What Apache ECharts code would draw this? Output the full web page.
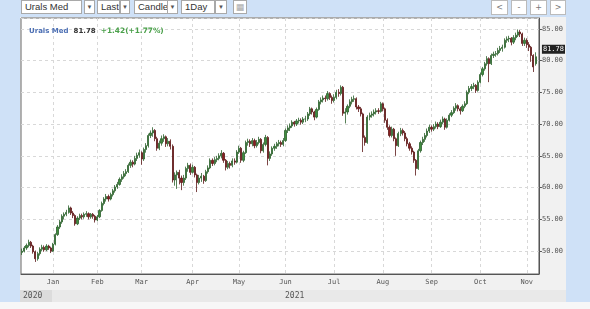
<!DOCTYPE html>
<html><head><meta charset="utf-8">
<script src="https://cdn.jsdelivr.net/npm/echarts@6/dist/echarts.min.js"></script>
<style>
body{margin:0;width:590px;height:309px;background:#cfe1f7;overflow:hidden;position:relative;font-family:'Liberation Sans',Arial,sans-serif}
.b{position:absolute;top:0;height:14px;background:#fff;border:1px solid #a9a9a9;box-sizing:border-box;font-size:9.5px;line-height:12px;color:#333;padding-left:3px;white-space:nowrap;overflow:hidden}
.a{position:absolute;top:0;height:14px;background:#fff;border:1px solid #a9a9a9;box-sizing:border-box;font-size:6px;line-height:12px;color:#555;text-align:center}
.n{position:absolute;top:0;height:15px;background:#fff;border:1px solid #bbb;box-sizing:border-box;font-size:8px;line-height:13px;color:#777;text-align:center;font-family:'DejaVu Sans',sans-serif}
#c{position:absolute;left:20px;top:17px;width:546px;height:285px;background:#f1f1f1}
.yr{position:absolute;top:290px;height:12px;font-family:'DejaVu Sans Mono',monospace;font-size:8px;line-height:12px;color:#555}
</style></head><body>
<div class="b" style="left:21px;width:61px">Urals Med</div>
<div class="a" style="left:84px;width:11px">▼</div>
<div class="b" style="left:97px;width:23px">Last</div>
<div class="a" style="left:120px;width:10px">▼</div>
<div class="b" style="left:134px;width:34px">Candle</div>
<div class="a" style="left:167px;width:11px">▼</div>
<div class="b" style="left:181px;width:34px">1Day</div>
<div class="a" style="left:215px;width:12px">▼</div>
<div class="a" style="left:233px;width:14px;font-size:9px;color:#aaa;font-family:'DejaVu Sans',sans-serif">▦</div>
<div class="n" style="left:491px;width:17px">&lt;</div>
<div class="n" style="left:511px;width:16px">-</div>
<div class="n" style="left:530px;width:17px">+</div>
<div class="n" style="left:550px;width:16px">&gt;</div>
<div id="c"></div>
<div style="position:absolute;left:20px;top:290px;width:546px;height:12px;background:#e9e9e9"></div>
<div style="position:absolute;left:20px;top:290px;width:32px;height:12px;background:#dcdcdc"></div>
<div class="yr" style="left:23px">2020</div>
<div class="yr" style="left:285px">2021</div>
<div style="position:absolute;left:0;top:302px;width:590px;height:7px;background:#f7f7f7"></div>
<script>
const monthNames = ['Jan','Feb','Mar','Apr','May','Jun','Jul','Aug','Sep','Oct','Nov','Dec'];
const holidays = ['2020-12-25','2021-01-01','2021-04-02'];
const categoryCount = 234;
// [open, close, low, high] per trading day, from 2020-12-11
const ohlc = [
[49.8,50.0,49.4,50.4],[50.0,50.5,49.8,50.8],[50.5,50.9,50.2,51.2],[50.9,51.4,50.6,51.8],[51.4,50.8,50.5,51.6],
[50.8,49.9,49.6,51.0],[49.9,48.8,48.3,50.1],[48.8,49.6,48.5,49.9],[49.6,50.3,49.3,50.6],[50.3,50.6,50.0,51.0],
[50.6,50.2,49.9,50.9],[50.2,50.8,50.0,51.1],[50.8,50.5,50.2,51.0],[50.5,50.0,49.7,50.7],
[50.0,51.1,49.9,51.3],[51.1,52.6,50.9,52.8],[52.6,53.8,52.4,54.1],[53.8,54.6,53.5,54.9],[54.6,55.5,54.3,55.8],
[55.5,55.8,55.0,56.1],[55.8,56.1,55.5,56.5],[56.1,56.8,55.9,57.2],[56.8,56.0,55.7,57.0],[56.0,55.6,55.2,56.3],
[55.6,54.3,54.0,55.8],[54.3,55.2,54.1,55.5],[55.2,55.6,54.9,55.9],[55.6,55.4,55.0,55.9],[55.4,55.8,55.1,56.1],
[55.8,55.9,55.4,56.3],[55.9,55.4,55.0,56.1],[55.4,55.8,55.1,56.0],[55.8,55.5,55.1,56.0],[55.5,54.9,54.5,55.7],
[54.9,55.4,54.7,55.7],[55.4,56.4,55.2,56.6],[56.4,57.5,56.2,57.8],[57.5,58.2,57.2,58.5],[58.2,58.6,57.8,59.0],
[58.6,58.2,57.8,58.9],[58.2,58.9,58.0,59.2],[58.9,59.5,58.6,59.8],[59.5,60.1,59.2,60.4],[60.1,60.5,59.8,60.9],
[60.5,61.3,60.3,61.6],[61.3,61.7,60.9,62.1],[61.7,62.2,61.4,62.6],[62.2,62.5,61.8,62.9],[62.5,63.5,62.3,63.8],
[63.5,64.0,63.1,64.4],[64.0,63.7,63.2,64.3],[63.7,64.6,63.5,65.0],[64.6,65.1,64.2,65.5],[65.1,65.5,64.7,66.0],
[65.5,64.5,63.6,65.7],[64.5,66.0,64.2,66.3],[66.0,66.6,65.5,67.0],[66.6,68.2,66.3,68.5],[68.2,68.6,67.8,69.0],
[68.6,69.0,68.0,69.5],[69.0,67.7,67.3,69.2],[67.7,66.2,65.8,68.0],[66.2,67.0,65.9,67.4],[67.0,67.7,66.6,68.2],
[67.7,68.0,67.2,68.4],[68.0,66.9,66.4,68.2],[66.9,67.3,66.5,67.8],[67.3,66.5,66.0,67.6],[66.5,61.2,60.8,66.8],
[61.2,62.0,60.3,62.4],[62.0,62.4,59.8,62.7],[62.4,61.5,60.5,62.8],[61.5,60.8,59.6,61.9],[60.8,61.5,60.3,62.0],
[61.5,63.0,61.2,63.3],[63.0,63.5,62.5,63.9],[63.5,62.4,62.0,63.8],
[62.4,63.2,62.2,63.6],[63.2,62.0,61.6,63.4],[62.0,60.8,59.3,62.2],[60.8,61.5,60.5,62.0],[61.5,61.8,60.9,62.3],
[61.8,61.1,60.6,62.0],[61.1,62.5,60.9,62.8],[62.5,63.1,62.2,63.5],[63.1,64.3,62.9,64.6],[64.3,63.8,63.4,64.6],
[63.8,64.4,63.5,64.8],[64.4,64.6,64.0,65.0],[64.6,65.0,64.3,65.4],[65.0,65.4,64.6,65.9],[65.4,64.3,63.9,65.6],
[64.3,63.2,62.7,64.5],[63.2,63.8,62.9,64.2],[63.8,63.5,63.0,64.1],[63.5,64.2,63.2,64.6],[64.2,64.0,63.6,64.6],
[64.0,65.6,63.8,65.9],
[65.6,66.2,65.3,66.6],[66.2,64.3,63.9,66.4],[64.3,65.5,64.0,65.8],[65.5,67.1,65.3,67.4],[67.1,67.3,66.6,67.7],
[67.3,66.9,66.4,67.6],[66.9,67.4,66.5,67.8],[67.4,66.6,66.2,67.7],[66.6,67.1,66.3,67.5],[67.1,67.6,66.8,68.0],
[67.6,65.8,65.4,67.8],[65.8,66.8,65.5,67.1],[66.8,67.9,66.5,68.3],[67.9,64.6,63.5,68.1],[64.6,65.3,64.2,65.7],
[65.3,66.2,65.0,66.5],[66.2,66.5,65.8,66.9],[66.5,66.9,66.1,67.2],[66.9,67.1,66.5,67.5],[67.1,66.8,66.4,67.4],
[66.8,67.4,66.5,67.8],
[67.4,69.0,67.2,69.3],[69.0,69.4,68.6,69.8],[69.4,69.7,68.9,70.1],[69.7,70.3,69.4,70.6],[70.3,70.0,69.6,70.5],
[70.0,70.5,69.7,70.8],[70.5,70.6,70.1,71.0],[70.6,70.3,69.9,70.9],[70.3,70.8,70.0,71.1],[70.8,70.8,70.3,71.3],
[70.8,71.6,70.5,71.9],[71.6,72.4,71.3,72.7],[72.4,71.9,71.5,72.6],[71.9,71.1,70.6,72.1],[71.1,72.3,70.9,72.6],
[72.3,73.5,72.1,73.8],[73.5,73.8,73.1,74.2],[73.8,74.1,73.4,74.5],[74.1,74.0,73.5,74.5],[74.0,74.8,73.7,75.2],
[74.8,74.2,73.8,75.0],[74.2,73.7,73.2,74.5],
[73.7,74.2,73.4,74.7],[74.2,75.0,73.9,75.4],[75.0,74.8,74.3,75.5],[74.8,75.8,74.5,76.1],[75.8,71.7,71.3,76.0],
[71.7,71.9,70.1,72.5],[71.9,72.8,71.5,73.1],[72.8,73.5,72.5,73.9],[73.5,73.9,73.1,74.3],[73.9,74.0,73.5,74.5],
[74.0,72.7,72.3,74.2],[72.7,72.4,71.9,73.0],[72.4,71.6,71.2,72.7],[71.6,67.9,65.6,71.8],[67.9,67.1,66.6,68.2],
[67.1,71.1,66.9,71.4],[71.1,71.4,70.6,71.8],[71.4,71.6,71.0,72.0],[71.6,71.9,71.2,72.3],[71.9,72.1,71.5,72.5],
[72.1,72.0,71.6,72.5],[72.0,73.2,71.8,73.5],
[73.2,72.4,72.0,73.4],[72.4,70.6,70.2,72.6],[70.6,69.5,69.1,70.9],[69.5,68.2,67.9,69.8],[68.2,69.2,67.9,69.6],
[69.2,67.7,67.3,69.4],[67.7,66.6,65.0,67.9],[66.6,68.5,66.4,68.8],[68.5,69.0,68.1,69.4],[69.0,68.6,68.2,69.3],
[68.6,67.7,67.3,68.9],[67.7,66.9,66.5,68.0],[66.9,66.2,65.8,67.2],[66.2,65.6,65.2,66.5],[65.6,64.3,63.9,65.8],
[64.3,63.0,61.9,64.5],[63.0,65.8,62.8,66.1],[65.8,67.1,65.5,67.4],[67.1,67.6,66.7,68.0],[67.6,68.2,67.2,68.6],
[68.2,68.9,67.9,69.3],[68.9,69.5,68.6,69.9],
[69.5,69.2,68.8,69.8],[69.2,69.6,68.9,70.0],[69.6,70.0,69.3,70.4],[70.0,69.6,69.2,70.3],[69.6,70.3,69.4,70.7],
[70.3,70.8,70.0,71.2],[70.8,69.5,69.1,71.0],[69.5,70.6,69.3,70.9],[70.6,71.4,70.4,71.7],[71.4,71.8,71.1,72.2],
[71.8,72.5,71.6,72.8],[72.5,72.9,72.1,73.3],[72.9,72.4,72.0,73.1],[72.4,72.1,71.5,72.7],[72.1,72.8,71.9,73.1],
[72.8,73.2,72.5,73.6],[73.2,75.0,73.0,75.3],[75.0,75.6,74.7,76.0],[75.6,75.9,75.2,76.3],[75.9,76.1,75.5,76.5],
[76.1,75.3,74.9,76.3],[75.3,76.6,75.1,76.9],
[76.6,77.8,76.4,78.1],[77.8,78.7,77.5,79.0],[78.7,79.5,78.4,79.8],[79.5,80.3,79.2,80.7],[80.3,79.5,76.6,80.5],
[79.5,80.8,79.3,81.1],[80.8,81.0,80.4,81.4],[81.0,81.1,80.6,81.5],[81.1,81.6,80.8,82.0],[81.6,81.9,81.2,82.3],
[81.9,82.1,81.4,82.5],[82.1,83.2,81.9,83.5],[83.2,83.4,82.8,83.8],[83.4,83.5,82.9,83.9],[83.5,82.9,82.4,83.7],
[82.9,83.6,82.6,84.0],[83.6,84.0,83.2,84.4],[84.0,84.5,83.7,84.9],[84.5,84.2,83.7,84.8],[84.2,82.7,82.3,84.4],
[82.7,83.2,82.3,83.6],
[83.2,82.5,82.0,83.5],[82.5,82.1,81.5,82.9],[82.1,80.8,79.8,82.3],[80.8,79.0,78.2,81.0],[79.5,80.6,79.2,81.3]
];
const lastPrice = 81.78;
const headerName = 'Urals Med';
const headerChange = '+1.42(+1.77%)';

const dates = [];
for (let d = new Date(Date.UTC(2020, 11, 11)); dates.length < categoryCount; d.setUTCDate(d.getUTCDate() + 1)) {
  const wd = d.getUTCDay();
  if (wd === 0 || wd === 6) continue;
  const s = d.toISOString().slice(0, 10);
  if (holidays.includes(s)) continue;
  dates.push(s);
}
const isMonthStart = (i) => i > 0 && dates[i].slice(5, 7) !== dates[i - 1].slice(5, 7);
const mono = 'DejaVu Sans Mono';

const chart = echarts.init(document.getElementById('c'));
chart.setOption({
  animation: false,
  title: {
    left: 9, top: 5, padding: 0,
    text: '{n|' + headerName + '} {p|' + lastPrice.toFixed(2) + '} {c|' + headerChange + '}',
    textStyle: {
      rich: {
        n: {color: '#4c6fb4', fontWeight: 'bold', fontSize: 7, fontFamily: 'DejaVu Sans'},
        p: {color: '#333', fontWeight: 'bold', fontSize: 7, fontFamily: 'DejaVu Sans'},
        c: {color: '#4aa04a', fontWeight: 'bold', fontSize: 7.4, fontFamily: 'DejaVu Sans'}
      }
    }
  },
  grid: {left: 1, right: 26, top: 1, bottom: 28, show: true, backgroundColor: '#fff', borderColor: '#666', borderWidth: 1},
  xAxis: {
    type: 'category', data: dates, boundaryGap: true,
    axisLine: {lineStyle: {color: '#555'}},
    axisTick: {interval: isMonthStart, alignWithLabel: true, length: 3, lineStyle: {color: '#555'}},
    axisLabel: {interval: isMonthStart, formatter: (v) => monthNames[+v.slice(5, 7) - 1], fontSize: 7, fontFamily: mono, color: '#555', margin: 5},
    splitLine: {show: true, interval: isMonthStart, alignWithLabel: true, lineStyle: {color: '#d8d8d8', type: [3, 3]}}
  },
  yAxis: {
    type: 'value', position: 'right', min: 46.4, max: 86.7, splitNumber: 8,
    axisLine: {show: true, lineStyle: {color: '#555'}},
    axisTick: {show: true, length: 3, lineStyle: {color: '#555'}},
    axisLabel: {formatter: (v) => v.toFixed(2), showMinLabel: false, showMaxLabel: false, fontSize: 7, fontFamily: mono, color: '#555', margin: 3},
    splitLine: {show: true, lineStyle: {color: '#d8d8d8', type: [3, 3]}}
  },
  series: [{
    type: 'candlestick', data: ohlc, barWidth: '75%',
    itemStyle: {color: '#3e8e3e', color0: '#8a1f1f', borderColor: '#2c602c', borderColor0: '#5a1515', borderWidth: 0.8},
    markLine: {
      silent: true, symbol: 'none', animation: false,
      lineStyle: {color: 'rgba(0,0,0,0)', width: 0},
      label: {show: true, position: 'end', distance: 3, formatter: lastPrice.toFixed(2), backgroundColor: '#222', color: '#fff', padding: [1, 1], fontSize: 7, fontFamily: mono, opacity: 1},
      data: [{yAxis: lastPrice}]
    }
  }]
});
</script>
</body></html>
